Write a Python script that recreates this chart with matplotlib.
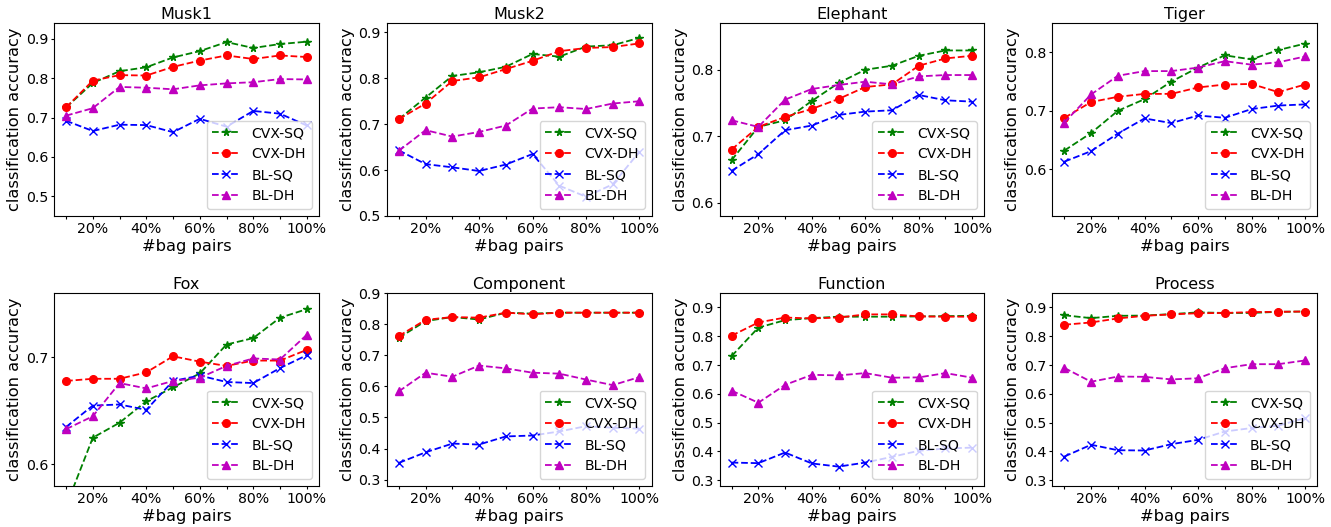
# 데이터셋별 bag pair 비율에 따른 분류 정확도

import numpy as np
import matplotlib
matplotlib.use('Agg')
import matplotlib.pyplot as plt
from matplotlib.ticker import MultipleLocator

pct = [10, 20, 30, 40, 50, 60, 70, 80, 90, 100]
pct_labels = ['', '20%', '', '40%', '', '60%', '', '80%', '', '100%']

names = ['Musk1', 'Musk2', 'Elephant', 'Tiger', 'Fox', 'Component', 'Function', 'Process']
methods = ['CVX-SQ', 'CVX-DH', 'BL-SQ', 'BL-DH']

musk1_cvx_sq = [0.726, 0.788, 0.818, 0.828, 0.853, 0.869, 0.892, 0.877, 0.887, 0.893]
musk1_cvx_dh = [0.726, 0.794, 0.808, 0.807, 0.829, 0.845, 0.858, 0.849, 0.858, 0.854]
musk1_bl_sq = [0.692, 0.666, 0.682, 0.681, 0.663, 0.697, 0.677, 0.717, 0.710, 0.680]
musk1_bl_dh = [0.705, 0.724, 0.778, 0.776, 0.772, 0.782, 0.787, 0.790, 0.798, 0.797]

musk2_cvx_sq = [0.711, 0.758, 0.805, 0.813, 0.825, 0.853, 0.847, 0.869, 0.872, 0.888]
musk2_cvx_dh = [0.711, 0.745, 0.794, 0.802, 0.820, 0.838, 0.859, 0.866, 0.868, 0.876]
musk2_bl_sq = [0.643, 0.613, 0.606, 0.598, 0.612, 0.635, 0.566, 0.542, 0.569, 0.640]
musk2_bl_dh = [0.642, 0.687, 0.673, 0.683, 0.697, 0.734, 0.737, 0.733, 0.745, 0.750]

elephant_cvx_sq = [0.664, 0.714, 0.724, 0.753, 0.780, 0.800, 0.806, 0.821, 0.829, 0.829]
elephant_cvx_dh = [0.680, 0.714, 0.729, 0.741, 0.756, 0.774, 0.778, 0.806, 0.817, 0.821]
elephant_bl_sq = [0.648, 0.673, 0.709, 0.716, 0.732, 0.737, 0.739, 0.762, 0.754, 0.752]
elephant_bl_dh = [0.724, 0.714, 0.755, 0.771, 0.777, 0.782, 0.778, 0.790, 0.792, 0.792]

tiger_cvx_sq = [0.632, 0.662, 0.700, 0.720, 0.750, 0.774, 0.795, 0.788, 0.804, 0.815]
tiger_cvx_dh = [0.688, 0.715, 0.724, 0.729, 0.729, 0.740, 0.745, 0.746, 0.732, 0.745]
tiger_bl_sq = [0.613, 0.631, 0.661, 0.687, 0.679, 0.692, 0.688, 0.703, 0.709, 0.711]
tiger_bl_dh = [0.680, 0.728, 0.760, 0.768, 0.768, 0.774, 0.785, 0.779, 0.783, 0.793]

fox_cvx_sq = [0.561, 0.625, 0.639, 0.659, 0.672, 0.685, 0.712, 0.718, 0.737, 0.745]
fox_cvx_dh = [0.678, 0.680, 0.680, 0.686, 0.701, 0.696, 0.692, 0.697, 0.697, 0.707]
fox_bl_sq = [0.635, 0.655, 0.656, 0.651, 0.678, 0.683, 0.677, 0.676, 0.690, 0.702]
fox_bl_dh = [0.633, 0.645, 0.676, 0.671, 0.678, 0.681, 0.692, 0.699, 0.698, 0.721]

component_cvx_sq = [0.756, 0.810, 0.823, 0.815, 0.837, 0.834, 0.837, 0.837, 0.837, 0.837]
component_cvx_dh = [0.762, 0.814, 0.823, 0.821, 0.837, 0.832, 0.837, 0.837, 0.837, 0.837]
component_bl_sq = [0.354, 0.388, 0.416, 0.413, 0.439, 0.442, 0.455, 0.472, 0.467, 0.464]
component_bl_dh = [0.584, 0.644, 0.631, 0.667, 0.658, 0.644, 0.641, 0.622, 0.604, 0.630]

function_cvx_sq = [0.731, 0.830, 0.856, 0.863, 0.868, 0.868, 0.868, 0.869, 0.870, 0.871]
function_cvx_dh = [0.802, 0.848, 0.865, 0.862, 0.865, 0.876, 0.876, 0.869, 0.868, 0.868]
function_bl_sq = [0.361, 0.359, 0.396, 0.358, 0.347, 0.361, 0.381, 0.402, 0.410, 0.413]
function_bl_dh = [0.611, 0.569, 0.631, 0.666, 0.664, 0.672, 0.656, 0.657, 0.672, 0.656]

process_cvx_sq = [0.873, 0.863, 0.871, 0.872, 0.877, 0.883, 0.881, 0.881, 0.885, 0.886]
process_cvx_dh = [0.840, 0.848, 0.862, 0.871, 0.876, 0.880, 0.881, 0.884, 0.885, 0.886]
process_bl_sq = [0.382, 0.423, 0.404, 0.403, 0.425, 0.440, 0.469, 0.481, 0.489, 0.516]
process_bl_dh = [0.690, 0.642, 0.660, 0.659, 0.650, 0.654, 0.689, 0.703, 0.703, 0.716]

ylims = [(0.45, 0.94), (0.5, 0.92), (0.58, 0.87), (0.52, 0.85),
         (0.58, 0.76), (0.28, 0.9), (0.28, 0.95), (0.28, 0.95)]

results = [
    [musk1_cvx_sq, musk1_cvx_dh, musk1_bl_sq, musk1_bl_dh],
    [musk2_cvx_sq, musk2_cvx_dh, musk2_bl_sq, musk2_bl_dh],
    [elephant_cvx_sq, elephant_cvx_dh, elephant_bl_sq, elephant_bl_dh],
    [tiger_cvx_sq, tiger_cvx_dh, tiger_bl_sq, tiger_bl_dh],
    [fox_cvx_sq, fox_cvx_dh, fox_bl_sq, fox_bl_dh],
    [component_cvx_sq, component_cvx_dh, component_bl_sq, component_bl_dh],
    [function_cvx_sq, function_cvx_dh, function_bl_sq, function_bl_dh],
    [process_cvx_sq, process_cvx_dh, process_bl_sq, process_bl_dh],
]

styles = ['g*--', 'ro--', 'bx--', 'm^--']

fig, axes = plt.subplots(2, 4, figsize=(13.31, 5.27), dpi=100)
plt.subplots_adjust(left=0.0406, right=0.9895, top=0.956, bottom=0.078,
                    wspace=0.257, hspace=0.40)

for ax, name, res, yl in zip(axes.flat, names, results, ylims):
    for vals, st, m in zip(res, styles, methods):
        ax.plot(pct, vals, st, label=m, markersize=5.5, linewidth=1.3)
    ax.set_title(name, fontsize=11.5, pad=3)
    ax.set_xticks(pct)
    ax.set_xticklabels(pct_labels)
    ax.set_ylim(yl)
    ax.yaxis.set_major_locator(MultipleLocator(0.1))
    ax.tick_params(labelsize=10.2, length=2.5, pad=1.8)
    ax.set_xlabel('#bag pairs', fontsize=11.7, labelpad=2)
    ax.set_ylabel('classification accuracy', fontsize=11.7, labelpad=2.5)
    ax.legend(loc='lower right', fontsize=10.1)

plt.savefig('out.png', dpi=100)
